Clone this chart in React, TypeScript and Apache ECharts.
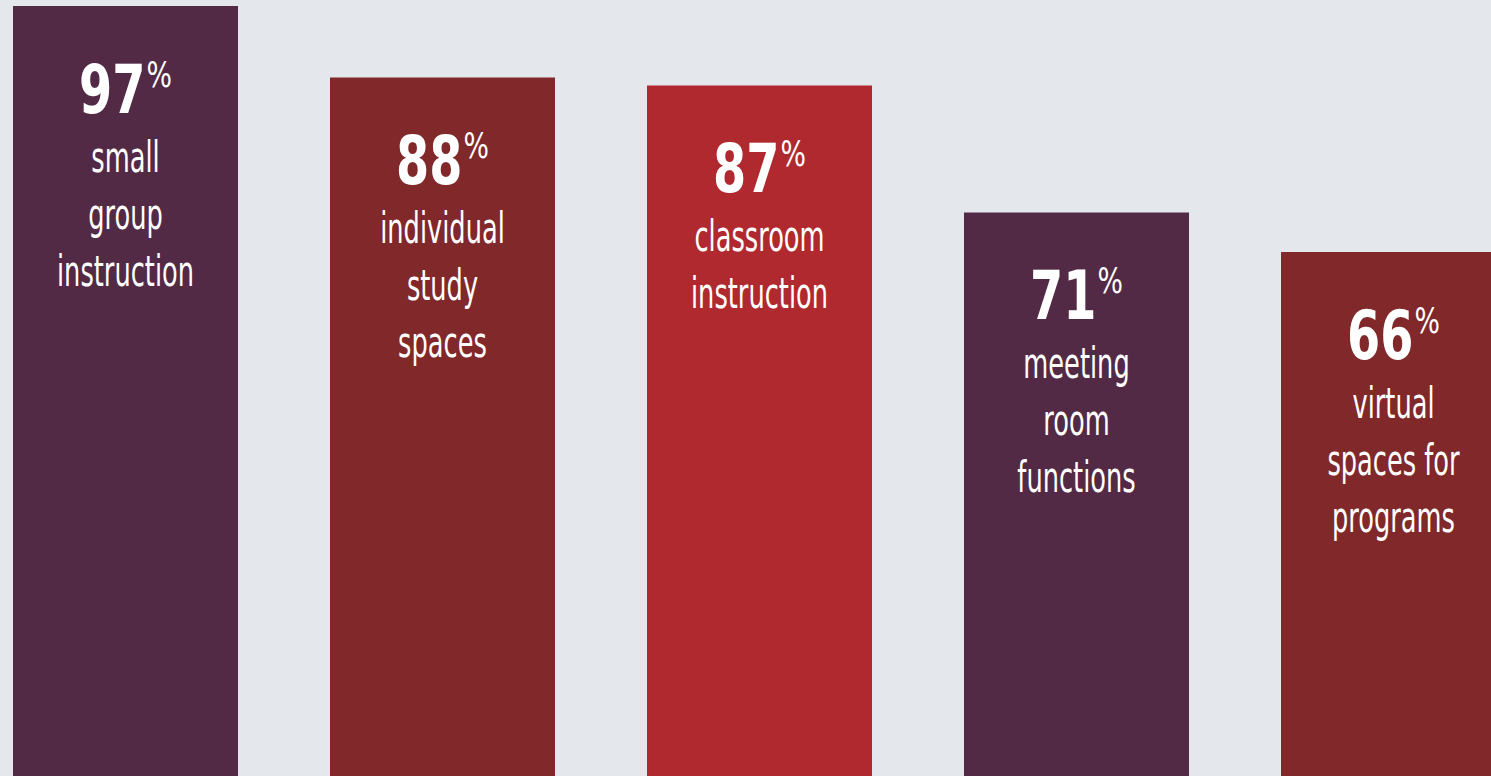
import React, { useEffect, useRef } from "react";
import * as echarts from "echarts";

const categories = [
  "small\ngroup\ninstruction",
  "individual\nstudy\nspaces",
  "classroom\ninstruction",
  "meeting\nroom\nfunctions",
  "virtual\nspaces for\nprograms",
];
const values = [97, 88, 87, 71, 66];
const barColors = ["#532a45", "#80282a", "#b0292e", "#532a45", "#80282a"];

const FONT = "'DejaVu Sans Condensed', 'DejaVu Sans', sans-serif";

export default function App() {
  const ref = useRef<HTMLDivElement>(null);
  useEffect(() => {
    if (!ref.current) return;
    const chart = echarts.init(ref.current, undefined, { renderer: "svg" });
    chart.setOption({
      animation: false,
      backgroundColor: "#e4e7ec",
      grid: { left: 0, right: 0, top: 0, bottom: 0, containLabel: false },
      xAxis: {
        type: "category",
        data: categories,
        axisLine: { show: false },
        axisTick: { show: false },
        axisLabel: { show: false },
        splitLine: { show: false },
      },
      yAxis: {
        type: "value",
        min: 0,
        max: 97.76,
        show: false,
        splitLine: { show: false },
      },
      series: [
        {
          type: "bar",
          barWidth: 225,
          data: values.map((v, i) => ({
            value: v,
            itemStyle: { color: barColors[i] },
          })),
        },
        {
          type: "custom",
          z: 5,
          clip: false,
          data: values.map((v, i) => [i, v]),
          encode: { x: 0, y: 1 },
          renderItem: (params: any, api: any) => {
            const i = params.dataIndex;
            const pt = api.coord([api.value(0), api.value(1)]);
            const cx = pt[0];
            const top = pt[1];
            const children: any[] = [];
            children.push({
              type: "text",
              x: cx + 20,
              y: top + 83,
              scaleX: 0.78,
              style: {
                x: 0,
                y: 0,
                text: String(values[i]),
                fill: "#ffffff",
                fontFamily: FONT,
                fontWeight: "bold",
                fontSize: 68,
                align: "right",
                verticalAlign: "middle",
              },
            });
            children.push({
              type: "text",
              x: cx + 21,
              y: top + 69,
              scaleX: 0.85,
              style: {
                x: 0,
                y: 0,
                text: "%",
                fill: "#ffffff",
                fontFamily: FONT,
                fontSize: 35,
                align: "left",
                verticalAlign: "middle",
              },
            });
            String(categories[i])
              .split("\n")
              .forEach((line, k) => {
                children.push({
                  type: "text",
                  x: cx,
                  y: top + 151 + k * 57,
                  scaleX: 0.68,
                  style: {
                    x: 0,
                    y: 0,
                    text: line,
                    fill: "#ffffff",
                    fontFamily: FONT,
                    fontSize: 42,
                    align: "center",
                    verticalAlign: "middle",
                  },
                });
              });
            return { type: "group", children };
          },
        },
      ],
    });
    return () => chart.dispose();
  }, []);
  return (
    <div
      style={{
        position: "absolute",
        left: 0,
        top: 0,
        width: 1491,
        height: 776,
        overflow: "hidden",
      }}
    >
      <div
        ref={ref}
        style={{ position: "absolute", left: -33, top: 0, width: 1585, height: 776 }}
      />
    </div>
  );
}
